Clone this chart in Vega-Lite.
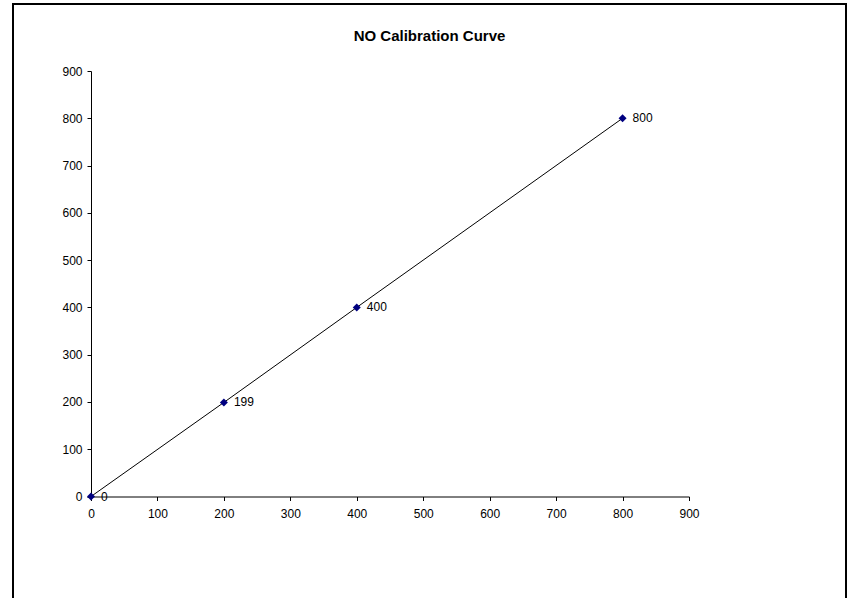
{
  "$schema": "https://vega.github.io/schema/vega-lite/v6.json",
  "width": 833,
  "height": 600,
  "autosize": {"type": "none"},
  "padding": {"left": 13, "top": 4, "right": 12, "bottom": 0},
  "background": "white",
  "config": {
    "view": {"stroke": "black", "strokeWidth": 2, "fill": "white"},
    "font": "Liberation Sans",
    "axis": {
      "domainColor": "black",
      "domainWidth": 1,
      "tickColor": "black",
      "tickWidth": 1,
      "tickSize": 4,
      "labelColor": "black",
      "labelFontSize": 12,
      "labelFont": "Liberation Sans",
      "grid": false,
      "title": null
    }
  },
  "title": {
    "text": "NO Calibration Curve",
    "font": "Liberation Sans",
    "fontSize": 15,
    "fontWeight": "bold",
    "color": "black",
    "anchor": "middle",
    "frame": "group",
    "offset": -40
  },
  "data": {
    "values": [
      {"concentration": 0, "reading": 0},
      {"concentration": 200, "reading": 199},
      {"concentration": 400, "reading": 400},
      {"concentration": 800, "reading": 800}
    ]
  },
  "encoding": {
    "x": {
      "field": "concentration",
      "type": "quantitative",
      "scale": {"domain": [0, 900], "range": [78, 676], "nice": false, "zero": false},
      "axis": {
        "values": [0, 100, 200, 300, 400, 500, 600, 700, 800, 900],
        "offset": -107.5,
        "labelPadding": 8,
        "labelFlush": false,
        "labelOverlap": false
      }
    },
    "y": {
      "field": "reading",
      "type": "quantitative",
      "scale": {"domain": [0, 900], "range": [492.5, 67], "nice": false, "zero": false},
      "axis": {
        "values": [0, 100, 200, 300, 400, 500, 600, 700, 800, 900],
        "offset": -78,
        "labelPadding": 5,
        "labelFlush": false,
        "labelOverlap": false
      }
    }
  },
  "layer": [
    {"mark": {"type": "line", "color": "black", "strokeWidth": 1, "clip": false}},
    {"mark": {"type": "point", "shape": "diamond", "filled": true, "color": "#000080", "size": 64, "opacity": 1, "clip": false}},
    {
      "mark": {"type": "text", "align": "left", "baseline": "middle", "dx": 10, "fontSize": 12, "color": "black", "font": "Liberation Sans", "clip": false},
      "encoding": {"text": {"field": "reading", "type": "quantitative"}}
    }
  ]
}
